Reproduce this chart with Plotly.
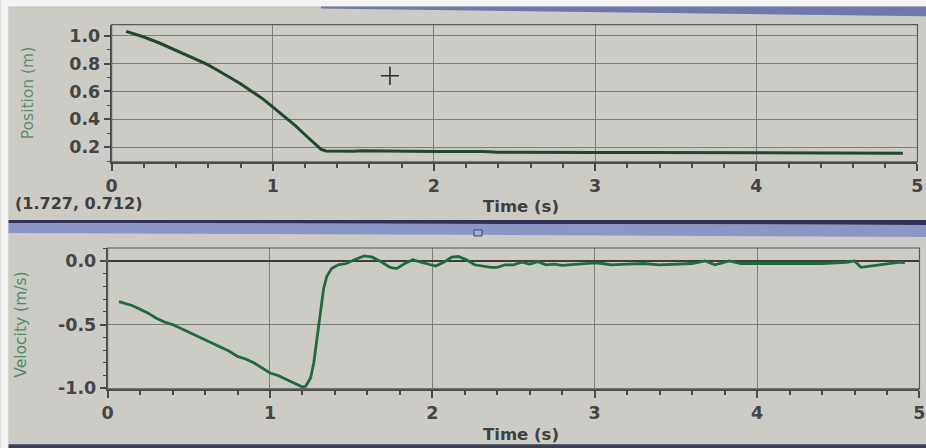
import plotly.graph_objects as go

W, H = 926, 448

# Position (m) vs time (s)
pos_t = [0.09, 0.15, 0.2, 0.3, 0.38, 0.45, 0.52, 0.59, 0.66, 0.73, 0.8, 0.87, 0.94,
         1.02, 1.08, 1.14, 1.2, 1.26, 1.3, 1.33, 1.4, 1.5, 1.55, 1.65, 1.75, 1.8,
         1.9, 2.0, 2.05, 2.15, 2.3, 2.4, 2.5, 2.7, 3.0, 3.3, 3.6, 4.0, 4.3, 4.6, 4.91]
pos_x = [1.03, 1.01, 0.99, 0.945, 0.905, 0.87, 0.835, 0.795, 0.75, 0.705, 0.655, 0.60, 0.545,
         0.47, 0.415, 0.355, 0.29, 0.225, 0.185, 0.174, 0.172, 0.172, 0.175, 0.175, 0.172, 0.170,
         0.172, 0.170, 0.169, 0.171, 0.170, 0.165, 0.164, 0.164, 0.163, 0.162, 0.161, 0.160, 0.159, 0.159, 0.158]

# Velocity (m/s) vs time (s)
vel_t = [0.07, 0.1, 0.15, 0.2, 0.25, 0.3, 0.35, 0.4, 0.45, 0.5, 0.55, 0.6, 0.65, 0.7, 0.75,
         0.8, 0.85, 0.9, 0.95, 1.0, 1.05, 1.1, 1.15, 1.2, 1.22, 1.25, 1.27, 1.29, 1.31, 1.33,
         1.35, 1.38, 1.42, 1.47, 1.52, 1.58, 1.63, 1.69, 1.74, 1.78, 1.83, 1.88, 1.93, 1.98,
         2.02, 2.07, 2.12, 2.16, 2.21, 2.26, 2.31, 2.36, 2.4, 2.45, 2.5, 2.55, 2.6, 2.65, 2.7,
         2.75, 2.8, 2.85, 2.9, 2.95, 3.0, 3.05, 3.1, 3.2, 3.3, 3.4, 3.5, 3.6, 3.68, 3.74, 3.83,
         3.9, 4.0, 4.2, 4.4, 4.55, 4.6, 4.64, 4.7, 4.76, 4.82, 4.88, 4.91]
vel_v = [-0.32, -0.33, -0.35, -0.38, -0.41, -0.45, -0.48, -0.50, -0.53, -0.56, -0.59, -0.62,
         -0.65, -0.68, -0.71, -0.75, -0.77, -0.80, -0.84, -0.88, -0.90, -0.93, -0.96, -0.99,
         -0.985, -0.92, -0.80, -0.60, -0.38, -0.22, -0.12, -0.06, -0.03, -0.02, 0.01, 0.04,
         0.03, -0.01, -0.05, -0.06, -0.02, 0.01, -0.01, -0.03, -0.04, -0.01, 0.03, 0.035, 0.01,
         -0.03, -0.04, -0.05, -0.05, -0.03, -0.03, -0.01, -0.025, -0.005, -0.03, -0.025, -0.035,
         -0.03, -0.02, -0.02, -0.015, -0.02, -0.03, -0.025, -0.02, -0.03, -0.025, -0.02, 0.0,
         -0.03, 0.0, -0.02, -0.02, -0.02, -0.02, -0.01, 0.0, -0.05, -0.04, -0.03, -0.02, -0.01, -0.015]

# Examine cursor readout
cursor = (1.727, 0.712)

x_ticks = [0, 1, 2, 3, 4, 5]
pos_ticks = [0.2, 0.4, 0.6, 0.8, 1.0]
vel_ticks = [-1.0, -0.5, 0.0]

BG = "#cccbc6"
AX = "#4a4a4a"
TICK_FONT = dict(family="DejaVu Sans", size=17.5, color="#454545", weight="bold")

# the page draws the figure slightly inset and scaled; these map screen pixels to figure space
SX, OX = 0.986, 5.5
SY, OY = 0.978, 0.5


def px(x):
    return ((x - OX) / SX) / W


def py(y):
    return 1 - ((y - OY) / SY) / H


fig = go.Figure()
fig.add_trace(go.Scatter(x=pos_t, y=pos_x, mode="lines", xaxis="x", yaxis="y",
                         line=dict(color="#21472f", width=3), showlegend=False))
fig.add_trace(go.Scatter(x=vel_t, y=vel_v, mode="lines", xaxis="x2", yaxis="y2",
                         line=dict(color="#1f6b3f", width=2.8), showlegend=False))
fig.add_trace(go.Scatter(x=[cursor[0]], y=[cursor[1]], mode="markers", xaxis="x", yaxis="y",
                         marker=dict(symbol="cross-thin", size=13,
                                     line=dict(color="#2e2e2e", width=1.6)),
                         showlegend=False))

xcommon = dict(range=[0, 5], tickvals=x_ticks, ticktext=[str(v) for v in x_ticks],
               showgrid=True, gridcolor="#7d7d7a", gridwidth=1, zeroline=False,
               showline=True, linecolor=AX, linewidth=1.6,
               ticks="outside", ticklen=7, tickwidth=1.6, tickcolor=AX,
               tickfont=TICK_FONT, ticklabeloverflow="allow",
               minor=dict(dtick=0.2, tick0=0, ticks="outside", ticklen=4, tickwidth=1.6,
                          tickcolor=AX, showgrid=False))

fig.update_layout(
    width=W, height=H,
    margin=dict(l=0, r=0, t=0, b=0),
    paper_bgcolor=BG, plot_bgcolor=BG,
    xaxis=dict(domain=[px(111), px(916)], anchor="y", **xcommon),
    yaxis=dict(domain=[py(162), py(25)], anchor="x", range=[0.096, 1.079],
               tickvals=pos_ticks, ticktext=[f"{v:.1f}" for v in pos_ticks],
               showgrid=True, gridcolor="#7d7d7a", gridwidth=1, zeroline=False,
               showline=True, linecolor=AX, linewidth=1.6,
               ticks="outside", ticklen=6, tickwidth=1.6, tickcolor=AX,
               tickfont=TICK_FONT, ticklabeloverflow="allow",
               minor=dict(dtick=0.1, tick0=0, ticks="outside", ticklen=3, tickwidth=1.4,
                          tickcolor=AX, showgrid=False)),
    xaxis2=dict(domain=[px(107), px(918)], anchor="y2", **xcommon),
    yaxis2=dict(domain=[py(389), py(248)], anchor="x2", range=[-1.008, 0.102],
                tickvals=vel_ticks, ticktext=[f"{v:.1f}" for v in vel_ticks],
                showgrid=True, gridcolor="#7d7d7a", gridwidth=1,
                zeroline=True, zerolinecolor="#3c3c3c", zerolinewidth=2,
                showline=True, linecolor=AX, linewidth=1.6,
                ticks="outside", ticklen=6, tickwidth=1.6, tickcolor=AX,
                tickfont=TICK_FONT, ticklabeloverflow="allow",
                minor=dict(dtick=0.1, tick0=0, ticks="outside", ticklen=3, tickwidth=1.4,
                           tickcolor=AX, showgrid=False)),
)

shapes = []
# plot frames
for xr, yr in (("x domain", "y domain"), ("x2 domain", "y2 domain")):
    shapes.append(dict(type="rect", xref=xr, yref=yr, x0=0, x1=1, y0=0, y1=1,
                       line=dict(color="#5a5a58", width=1.2), layer="above"))


def poly(points, fill):
    d = "M " + " L ".join(f"{px(x):.5f},{py(y):.5f}" for x, y in points) + " Z"
    return dict(type="path", xref="paper", yref="paper", path=d, fillcolor=fill,
                line=dict(width=0), layer="below")


# window chrome: white edge, title strip, pane divider, bottom bar
shapes.append(poly([(0, 0), (940, 0), (940, 7), (8, 7), (8, 460), (0, 460)], "#f4f4f4"))
shapes.append(poly([(8, 7), (940, 7), (940, 444), (8, 444)], BG))
shapes.append(poly([(320, 7), (940, 7), (940, 17), (320, 9)], "#6e78ad"))
shapes.append(poly([(8, 220), (940, 220), (940, 225), (8, 223)], "#2e3356"))
shapes.append(poly([(8, 223), (940, 225), (940, 237), (8, 233)], "#8b96c6"))
shapes.append(poly([(8, 444), (940, 444), (940, 460), (8, 460)], "#3b3f52"))
shapes.append(dict(type="rect", xref="paper", yref="paper",
                   x0=px(473), x1=px(481), y0=py(236), y1=py(230),
                   fillcolor="#a6aed6", line=dict(color="#3d4266", width=1)))
fig.update_layout(shapes=shapes)

ann = [
    dict(text="Position (m)", x=px(27), y=py(94), textangle=-90,
         font=dict(family="DejaVu Sans", size=15.5, color="#5e8d72")),
    dict(text="Velocity (m/s)", x=px(21), y=py(325), textangle=-90,
         font=dict(family="DejaVu Sans", size=15.5, color="#4f8a69")),
    dict(text="Time (s)", x=px(520), y=py(207),
         font=dict(family="DejaVu Sans", size=16.5, color="#3f3f3f", weight="bold")),
    dict(text="Time (s)", x=px(520), y=py(434),
         font=dict(family="DejaVu Sans", size=16.5, color="#3f3f3f", weight="bold")),
    dict(text=f"({cursor[0]:.3f}, {cursor[1]:.3f})", x=px(78), y=py(204),
         font=dict(family="DejaVu Sans", size=16, color="#3f3f3f", weight="bold")),
]
for a in ann:
    a.update(xref="paper", yref="paper", showarrow=False, xanchor="center", yanchor="middle")
fig.update_layout(annotations=ann)

fig.write_html("out.html")
